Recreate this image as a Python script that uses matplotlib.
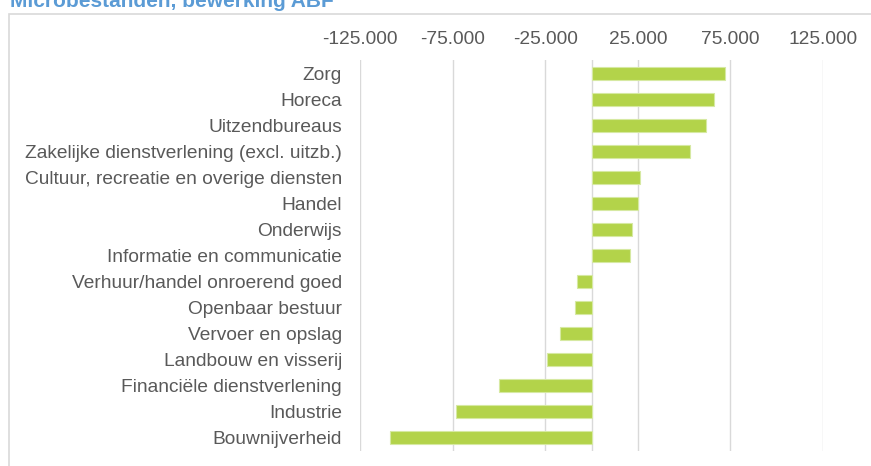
import matplotlib.pyplot as plt
from matplotlib.patches import Rectangle
import numpy as np

# Sectoren (van boven naar beneden) en waarden
sectoren = [
    'Zorg',
    'Horeca',
    'Uitzendbureaus',
    'Zakelijke dienstverlening (excl. uitzb.)',
    'Cultuur, recreatie en overige diensten',
    'Handel',
    'Onderwijs',
    'Informatie en communicatie',
    'Verhuur/handel onroerend goed',
    'Openbaar bestuur',
    'Vervoer en opslag',
    'Landbouw en visserij',
    'Financiële dienstverlening',
    'Industrie',
    'Bouwnijverheid',
]
waarden = [72000, 66000, 62000, 53000, 26000, 25000, 22000, 21000,
           -8000, -9000, -17000, -24000, -50000, -73000, -109000]
ticks = [-125000, -75000, -25000, 25000, 75000, 125000]
tick_labels = ['-125.000', '-75.000', '-25.000', '25.000', '75.000', '125.000']

W, H = 871, 466
grijs = '#595959'
lijn = '#d9d9d9'

plt.rcParams['font.family'] = ['Liberation Sans', 'DejaVu Sans']

fig = plt.figure(figsize=(W / 100, H / 100), dpi=100)

# Kader van de grafiek (loopt door buiten de afbeelding)
fig.patches.append(Rectangle((9 / W, -0.1), 1.2, 1 - 14 / H + 0.1,
                             transform=fig.transFigure, fill=False,
                             edgecolor=lijn, linewidth=1.2))

# Titel, half afgesneden bovenaan (zoals in het origineel)
fig.text(10 / W, 1 - 7 / H, 'Microbestanden, bewerking ABF',
         color='#5b9bd5', fontsize=15, fontweight='bold', va='baseline', ha='left')

ax = fig.add_axes([360 / W, 1 - 451 / H, (823 - 360) / W, (451 - 60) / H])

y = np.arange(len(sectoren))
ax.barh(y, waarden, height=0.5, color='#b3d34a', edgecolor='#d6e9a2', linewidth=0.8, zorder=3)
ax.axvline(0, color=lijn, linewidth=1.0, zorder=2)

ax.set_xlim(-125000, 125000)
ax.set_ylim(len(sectoren) - 0.5, -0.5)
ax.set_xticks(ticks)
ax.set_xticklabels(tick_labels)
ax.set_yticks(y)
ax.set_yticklabels(sectoren)

ax.xaxis.tick_top()
ax.tick_params(axis='x', length=0, pad=9, labelsize=13.8, labelcolor=grijs)
ax.tick_params(axis='y', length=0, pad=13, labelsize=13.8, labelcolor=grijs)
ax.grid(axis='x', color=lijn, linewidth=1.0, zorder=1)
ax.set_axisbelow(True)
for s in ax.spines.values():
    s.set_visible(False)

fig.savefig('out.png', dpi=100)
